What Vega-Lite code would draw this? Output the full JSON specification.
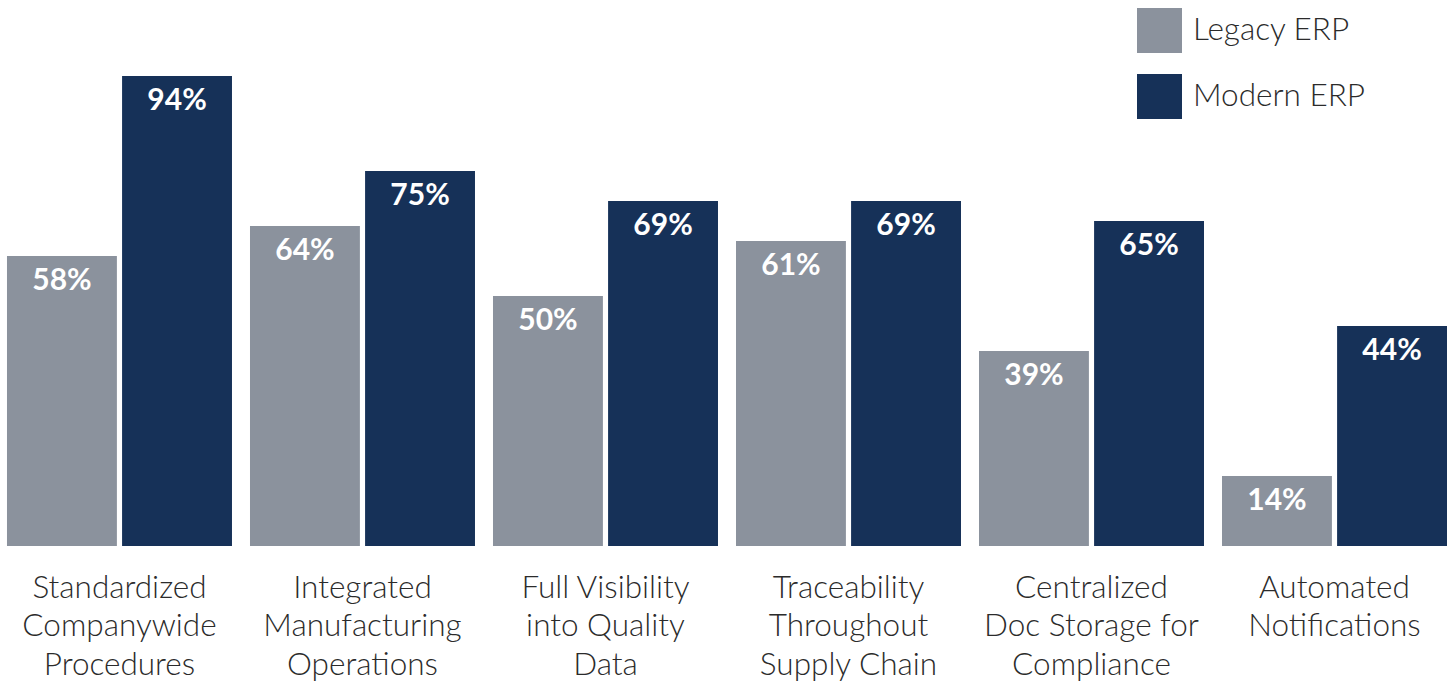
{
  "$schema": "https://vega.github.io/schema/vega-lite/v6.json",
  "width": 1451,
  "height": 546,
  "padding": 0,
  "autosize": {"type": "pad"},
  "background": "white",
  "config": {"view": {"stroke": null}, "font": "Lato"},
  "data": {
    "values": [
      {"category": "Standardized Companywide Procedures", "system": "Legacy ERP", "value": 0.58},
      {"category": "Standardized Companywide Procedures", "system": "Modern ERP", "value": 0.94},
      {"category": "Integrated Manufacturing Operations", "system": "Legacy ERP", "value": 0.64},
      {"category": "Integrated Manufacturing Operations", "system": "Modern ERP", "value": 0.75},
      {"category": "Full Visibility into Quality Data", "system": "Legacy ERP", "value": 0.50},
      {"category": "Full Visibility into Quality Data", "system": "Modern ERP", "value": 0.69},
      {"category": "Traceability Throughout Supply Chain", "system": "Legacy ERP", "value": 0.61},
      {"category": "Traceability Throughout Supply Chain", "system": "Modern ERP", "value": 0.69},
      {"category": "Centralized Doc Storage for Compliance", "system": "Legacy ERP", "value": 0.39},
      {"category": "Centralized Doc Storage for Compliance", "system": "Modern ERP", "value": 0.65},
      {"category": "Automated Notifications", "system": "Legacy ERP", "value": 0.14},
      {"category": "Automated Notifications", "system": "Modern ERP", "value": 0.44}
    ]
  },
  "encoding": {
    "x": {
      "field": "category",
      "type": "nominal",
      "sort": null,
      "scale": {"paddingInner": 0.0741, "paddingOuter": 0.0226, "align": 0.636},
      "axis": {
        "title": null,
        "domain": false,
        "ticks": false,
        "labelAngle": 0,
        "labelFontSize": 31.5,
        "labelFontWeight": 300,
        "labelColor": "#2b2b2b",
        "labelPadding": 42,
        "labelBaseline": "middle",
        "labelLineHeight": 38.5,
        "labelLimit": 400,
        "labelOverlap": false,
        "labelBound": false,
        "labelExpr": "datum.label == 'Standardized Companywide Procedures' ? ['Standardized','Companywide','Procedures'] : datum.label == 'Integrated Manufacturing Operations' ? ['Integrated','Manufacturing','Operations'] : datum.label == 'Full Visibility into Quality Data' ? ['Full Visibility','into Quality','Data'] : datum.label == 'Traceability Throughout Supply Chain' ? ['Traceability','Throughout','Supply Chain'] : datum.label == 'Centralized Doc Storage for Compliance' ? ['Centralized','Doc Storage for','Compliance'] : ['Automated','Notifications']"
      }
    },
    "xOffset": {
      "field": "system",
      "type": "nominal",
      "scale": {"paddingInner": 0.045, "paddingOuter": 0}
    },
    "y": {
      "field": "value",
      "type": "quantitative",
      "scale": {"domain": [0, 1.092], "nice": false},
      "axis": null
    }
  },
  "layer": [
    {
      "mark": {"type": "bar"},
      "encoding": {
        "color": {
          "field": "system",
          "type": "nominal",
          "scale": {"domain": ["Legacy ERP", "Modern ERP"], "range": ["#8b929d", "#163158"]},
          "legend": {
            "title": null,
            "orient": "none",
            "legendX": 1137,
            "legendY": 8,
            "symbolType": "square",
            "symbolSize": 2025,
            "symbolStrokeWidth": 0,
            "symbolOpacity": 1,
            "labelFontSize": 31.5,
            "labelFontWeight": 300,
            "labelColor": "#2b2b2b",
            "labelOffset": 11,
            "rowPadding": 21,
            "labelLimit": 300
          }
        }
      }
    },
    {
      "mark": {"type": "text", "baseline": "middle", "dy": 25, "fontSize": 30, "fontWeight": "bold", "color": "white"},
      "encoding": {
        "text": {"field": "value", "type": "quantitative", "format": ".0%"},
        "detail": {"field": "system"}
      }
    }
  ]
}
